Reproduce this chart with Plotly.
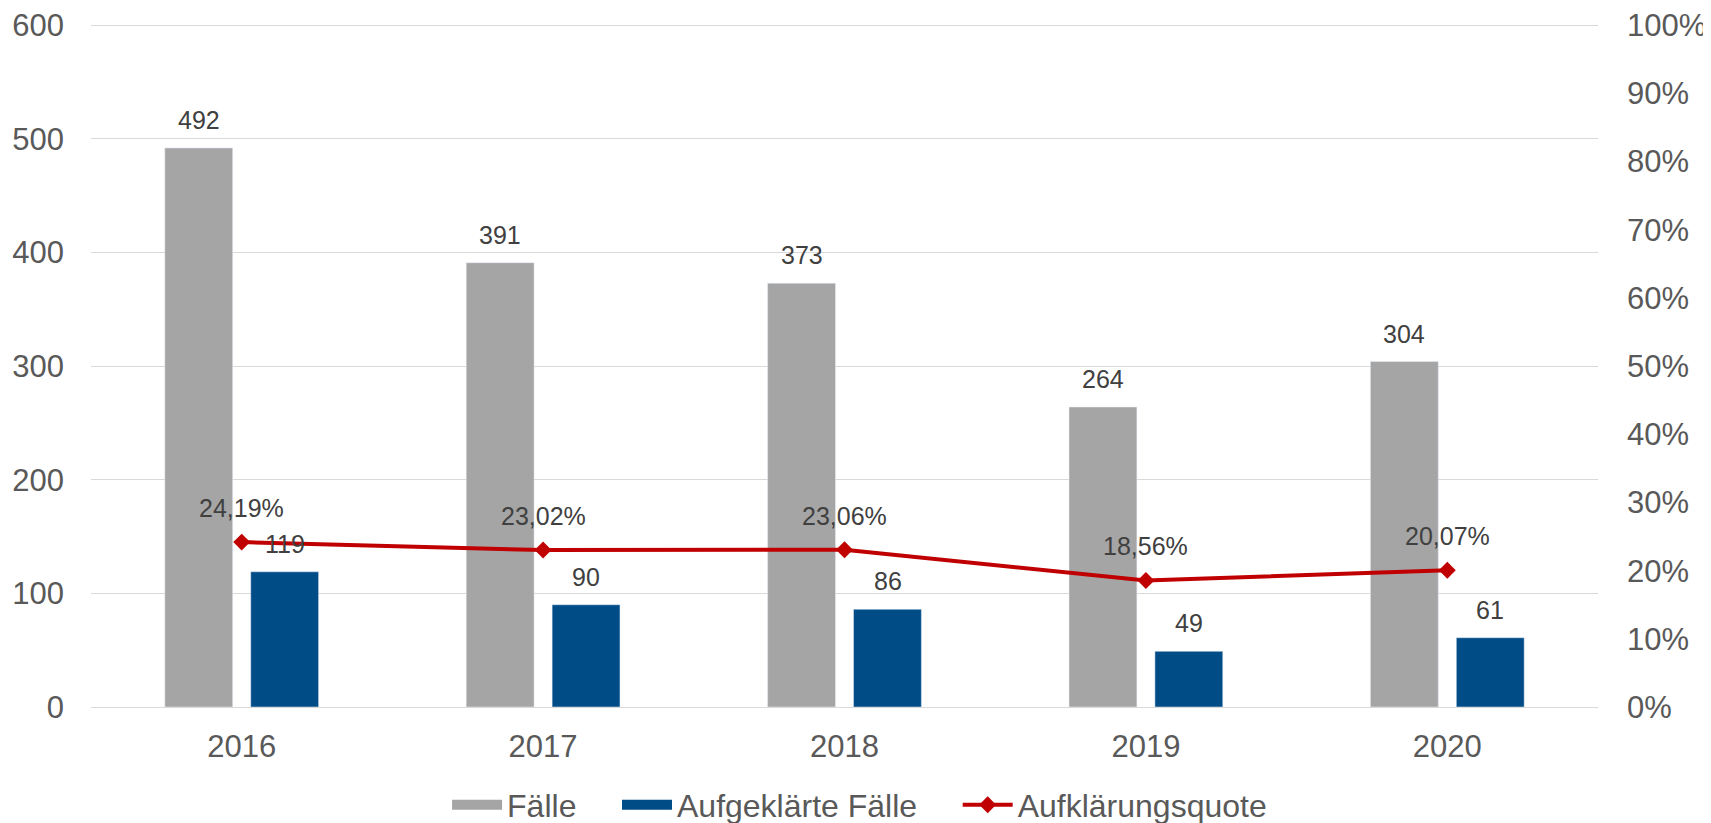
import plotly.graph_objects as go

years = ["2016", "2017", "2018", "2019", "2020"]
faelle = [492, 391, 373, 264, 304]
aufgeklaert = [119, 90, 86, 49, 61]
quote = [0.2419, 0.2302, 0.2306, 0.1856, 0.2007]

GRAY = "#A5A5A5"
BLUE = "#004C87"
RED = "#C00000"
TXT = "#404040"
TICK = "#595959"
FONT = "Liberation Sans, Arial, sans-serif"
PAD = "\u00a0" * 4

fig = go.Figure()
fig.add_trace(go.Bar(x=years, y=faelle, name="Fälle", marker_color=GRAY, yaxis="y",
                     showlegend=False, legendgroup="f"))
fig.add_trace(go.Bar(x=years, y=aufgeklaert, name="Aufgeklärte Fälle", marker_color=BLUE, yaxis="y",
                     showlegend=False, legendgroup="a"))
fig.add_trace(go.Scatter(x=years, y=quote, name="Aufklärungsquote", yaxis="y2",
                         mode="lines+markers", showlegend=False,
                         line=dict(color=RED, width=4),
                         marker=dict(symbol="diamond", size=13, color=RED)))

# legend-only entries (wide swatches like the reference)
fig.add_trace(go.Scatter(x=[None], y=[None], name="Fälle" + PAD, mode="lines",
                         line=dict(color=GRAY, width=14), legendgroup="f"))
fig.add_trace(go.Scatter(x=[None], y=[None], name="Aufgeklärte Fälle" + PAD, mode="lines",
                         line=dict(color=BLUE, width=14), legendgroup="a"))
fig.add_trace(go.Scatter(x=[None], y=[None], name="Aufklärungsquote", mode="lines+markers",
                         line=dict(color=RED, width=4),
                         marker=dict(symbol="diamond", size=13, color=RED), yaxis="y2"))

annotations = []
for i, yr in enumerate(years):
    annotations.append(dict(x=i, y=faelle[i], xref="x", yref="y", text=str(faelle[i]),
                            showarrow=False, yanchor="bottom", xshift=-43, yshift=12,
                            font=dict(size=25, color=TXT, family=FONT)))
    annotations.append(dict(x=i, y=aufgeklaert[i], xref="x", yref="y", text=str(aufgeklaert[i]),
                            showarrow=False, yanchor="bottom", xshift=43, yshift=12,
                            font=dict(size=25, color=TXT, family=FONT)))
    annotations.append(dict(x=i, y=quote[i], xref="x", yref="y2",
                            text=f"{quote[i]*100:.2f}%".replace(".", ","),
                            showarrow=False, yanchor="bottom", yshift=18,
                            font=dict(size=25, color=TXT, family=FONT)))

YMAX = 602
fig.update_layout(
    width=1703, height=815,
    margin=dict(l=83, r=113, t=15, b=116, autoexpand=False),
    paper_bgcolor="white", plot_bgcolor="white",
    separators=",.",
    barmode="group", bargap=0.43, bargroupgap=0.21,
    font=dict(family=FONT, color=TICK, size=31),
    xaxis=dict(type="category", range=[-0.5, 4.5], showgrid=False, showline=False, ticks="",
               ticklabelstandoff=18, tickfont=dict(size=31, color=TICK)),
    yaxis=dict(range=[0, YMAX], tickvals=[0, 100, 200, 300, 400, 500, 600],
               showgrid=True, gridcolor="#D9D9D9", gridwidth=1,
               zeroline=True, zerolinecolor="#D9D9D9", zerolinewidth=1,
               showline=False, ticks="", ticklabelstandoff=26,
               tickfont=dict(size=31, color=TICK)),
    yaxis2=dict(range=[0, YMAX / 600], tickvals=[i / 10 for i in range(11)], tickformat=".0%",
                overlaying="y", side="right",
                showgrid=False, zeroline=False, showline=False, ticks="", ticklabelstandoff=28,
                tickfont=dict(size=31, color=TICK)),
    legend=dict(orientation="h", x=0.51, xanchor="center", y=-0.1433, yanchor="middle",
                font=dict(size=32, color=TICK), itemwidth=50, traceorder="normal"),
    annotations=annotations,
    showlegend=True,
)

fig.write_html("out.html")
